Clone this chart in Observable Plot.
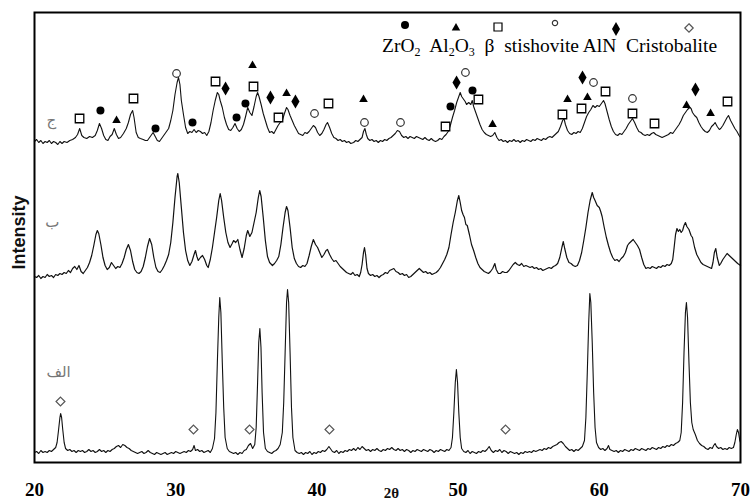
<!DOCTYPE html>
<html><head><meta charset="utf-8">
<script src="https://cdn.jsdelivr.net/npm/d3@7"></script>
<script src="https://cdn.jsdelivr.net/npm/@observablehq/plot@0.6"></script>
<style>
body{margin:0;background:#fff;}
#wrap{position:relative;width:753px;height:503px;}
#legtext{position:absolute;left:382px;top:36px;font:19.5px "Liberation Serif",serif;white-space:pre;color:#000;line-height:20px;}
#legtext sub{font-size:12px;vertical-align:-4px;line-height:0;}
#legsym{position:absolute;left:0;top:0;}
#chart g[aria-label="x-axis tick label"], #chart g[aria-label="x-axis tick label"] text{font-family:"Liberation Serif",serif !important;font-size:19px !important;font-weight:bold !important;}
</style></head>
<body>
<div id="wrap"><div id="chart"></div>
<svg id="legsym" width="753" height="60"></svg>
<div id="legtext">ZrO<sub>2</sub>  Al<sub>2</sub>O<sub>3</sub>  β  stishovite AlN  Cristobalite</div>
</div>
<script>
const xTicks = [20, 30, 40, 50, 60, 70];

// bottom pattern (الف)
const traceA = [[20.0,10],[20.15,11],[20.3,9],[20.45,12],[20.6,10],[20.75,11],[20.9,10],[21.05,12],[21.2,11],[21.35,13],[21.5,15],[21.6,20],[21.7,32],[21.8,45],[21.85,49],[21.92,45],[22.0,33],[22.1,20],[22.2,14],[22.35,12],[22.5,13],[22.65,11],[22.8,12],[22.95,10],[23.1,12],[23.25,11],[23.4,12],[23.55,10],[23.7,11],[23.85,13],[24.0,11],[24.15,12],[24.3,10],[24.45,11],[24.6,13],[24.75,11],[24.9,12],[25.05,10],[25.2,12],[25.35,11],[25.5,13],[25.65,14],[25.8,16],[25.95,17],[26.1,15],[26.25,18],[26.4,17],[26.55,15],[26.7,14],[26.85,12],[27.0,11],[27.15,10],[27.3,9],[27.45,10],[27.6,11],[27.75,9],[27.9,10],[28.05,12],[28.2,10],[28.35,9],[28.5,8],[28.65,10],[28.8,9],[28.95,8],[29.1,9],[29.25,10],[29.4,8],[29.55,9],[29.7,10],[29.85,9],[30.0,11],[30.15,10],[30.3,9],[30.45,10],[30.6,11],[30.75,10],[30.9,12],[31.05,11],[31.2,13],[31.3,17],[31.4,12],[31.55,13],[31.7,11],[31.85,12],[32.0,10],[32.15,11],[32.3,12],[32.45,10],[32.6,14],[32.75,24],[32.85,50],[32.95,100],[33.05,145],[33.12,165],[33.2,150],[33.3,100],[33.4,55],[33.5,25],[33.65,14],[33.8,11],[33.95,10],[34.1,9],[34.25,10],[34.4,8],[34.55,10],[34.7,9],[34.85,12],[35.0,13],[35.15,17],[35.3,19],[35.45,14],[35.6,18],[35.7,35],[35.8,80],[35.88,120],[35.96,134],[36.04,115],[36.12,70],[36.22,30],[36.35,14],[36.5,11],[36.65,10],[36.8,9],[36.95,11],[37.1,12],[37.25,14],[37.4,18],[37.55,30],[37.65,60],[37.75,110],[37.85,160],[37.92,173],[38.0,160],[38.1,110],[38.2,55],[38.3,25],[38.45,12],[38.6,10],[38.75,9],[38.9,10],[39.05,8],[39.2,10],[39.35,9],[39.5,11],[39.65,8],[39.8,10],[39.95,9],[40.1,11],[40.25,10],[40.4,12],[40.55,11],[40.7,13],[40.85,16],[40.95,14],[41.1,11],[41.25,10],[41.4,12],[41.55,9],[41.7,11],[41.85,10],[42.0,12],[42.15,11],[42.3,13],[42.45,12],[42.6,14],[42.75,12],[42.9,15],[43.05,13],[43.2,16],[43.35,14],[43.5,12],[43.65,13],[43.8,11],[43.95,13],[44.1,12],[44.25,14],[44.4,12],[44.55,11],[44.7,13],[44.85,12],[45.0,14],[45.15,13],[45.3,15],[45.45,13],[45.6,12],[45.75,14],[45.9,12],[46.05,13],[46.2,11],[46.35,13],[46.5,12],[46.65,10],[46.8,12],[46.95,11],[47.1,13],[47.25,12],[47.4,11],[47.55,13],[47.7,12],[47.85,11],[48.0,13],[48.15,12],[48.3,10],[48.45,12],[48.6,11],[48.75,13],[48.9,12],[49.05,11],[49.2,13],[49.35,12],[49.5,15],[49.6,25],[49.7,50],[49.8,80],[49.88,93],[49.96,80],[50.05,50],[50.15,25],[50.25,14],[50.4,11],[50.55,10],[50.7,12],[50.85,9],[51.0,11],[51.15,10],[51.3,9],[51.45,11],[51.6,10],[51.75,12],[51.9,11],[52.05,13],[52.2,16],[52.35,12],[52.5,10],[52.65,12],[52.8,11],[52.95,13],[53.1,10],[53.25,12],[53.4,11],[53.55,9],[53.7,11],[53.85,10],[54.0,9],[54.15,10],[54.3,8],[54.45,10],[54.6,9],[54.75,11],[54.9,10],[55.05,11],[55.2,10],[55.35,12],[55.5,11],[55.65,12],[55.8,13],[55.95,12],[56.1,14],[56.25,13],[56.4,15],[56.55,14],[56.7,16],[56.85,17],[57.0,18],[57.15,20],[57.3,21],[57.45,19],[57.6,16],[57.75,14],[57.9,12],[58.05,13],[58.2,11],[58.35,13],[58.5,12],[58.65,14],[58.8,16],[58.95,22],[59.05,45],[59.15,90],[59.25,140],[59.33,169],[59.4,160],[59.5,120],[59.6,70],[59.7,35],[59.8,20],[59.95,15],[60.1,13],[60.25,14],[60.4,12],[60.55,14],[60.65,17],[60.75,13],[60.9,12],[61.05,11],[61.2,12],[61.35,10],[61.5,12],[61.65,11],[61.8,13],[61.95,12],[62.1,11],[62.25,13],[62.4,12],[62.55,14],[62.7,13],[62.85,12],[63.0,14],[63.15,13],[63.3,12],[63.45,14],[63.6,13],[63.75,15],[63.9,14],[64.05,13],[64.2,15],[64.35,14],[64.5,16],[64.65,15],[64.8,17],[64.95,16],[65.1,18],[65.25,17],[65.4,19],[65.55,20],[65.7,22],[65.8,30],[65.9,60],[66.0,110],[66.1,150],[66.17,160],[66.25,145],[66.35,100],[66.45,60],[66.55,40],[66.65,33],[66.8,28],[66.95,22],[67.1,19],[67.25,17],[67.4,16],[67.55,14],[67.7,13],[67.85,15],[68.0,14],[68.1,17],[68.2,19],[68.3,16],[68.45,14],[68.6,15],[68.75,13],[68.9,14],[69.05,13],[69.2,15],[69.35,14],[69.5,15],[69.6,20],[69.7,28],[69.78,33],[69.86,30],[69.95,22],[70.0,20]];

// middle pattern (ب)
const traceB = [[20.0,186],[20.15,185],[20.3,187],[20.45,184],[20.6,186],[20.75,185],[20.9,188],[21.05,186],[21.2,187],[21.35,185],[21.5,188],[21.65,187],[21.8,189],[21.95,188],[22.1,190],[22.25,189],[22.4,192],[22.55,190],[22.7,194],[22.85,196],[23.0,193],[23.15,197],[23.3,191],[23.45,189],[23.6,192],[23.75,195],[23.9,200],[24.05,207],[24.2,217],[24.35,228],[24.45,232],[24.55,229],[24.7,218],[24.85,205],[25.0,197],[25.15,193],[25.3,195],[25.45,200],[25.6,197],[25.75,194],[25.9,196],[26.05,195],[26.2,199],[26.35,205],[26.5,213],[26.65,218],[26.8,212],[26.95,201],[27.1,193],[27.25,190],[27.4,189],[27.55,191],[27.7,196],[27.85,205],[28.0,216],[28.15,224],[28.3,218],[28.45,205],[28.6,195],[28.75,191],[28.9,190],[29.05,193],[29.2,197],[29.35,202],[29.5,208],[29.65,220],[29.8,240],[29.95,265],[30.1,286],[30.15,289],[30.25,280],[30.4,255],[30.55,230],[30.7,212],[30.85,202],[31.0,197],[31.15,201],[31.3,208],[31.4,212],[31.5,206],[31.6,202],[31.75,205],[31.9,207],[32.05,203],[32.2,197],[32.3,195],[32.45,203],[32.6,215],[32.75,230],[32.9,245],[33.05,262],[33.15,269],[33.25,262],[33.4,245],[33.55,230],[33.7,220],[33.85,215],[34.0,219],[34.1,222],[34.25,220],[34.4,223],[34.55,213],[34.7,205],[34.85,214],[35.0,227],[35.1,232],[35.25,226],[35.4,230],[35.55,240],[35.7,250],[35.85,265],[35.95,272],[36.05,266],[36.2,245],[36.35,222],[36.5,206],[36.65,200],[36.85,197],[37.0,199],[37.15,202],[37.3,206],[37.45,218],[37.6,235],[37.75,250],[37.85,256],[37.95,252],[38.1,235],[38.25,215],[38.4,204],[38.55,199],[38.7,196],[38.85,195],[39.0,197],[39.15,196],[39.3,199],[39.45,207],[39.6,216],[39.75,223],[39.9,218],[40.05,215],[40.2,210],[40.35,205],[40.5,208],[40.65,212],[40.75,213],[40.9,208],[41.05,204],[41.2,201],[41.35,202],[41.5,199],[41.65,196],[41.8,194],[41.95,192],[42.1,190],[42.25,189],[42.4,188],[42.55,190],[42.7,187],[42.85,188],[43.0,186],[43.1,190],[43.2,198],[43.3,210],[43.37,215],[43.45,208],[43.55,194],[43.65,189],[43.8,187],[43.95,188],[44.1,186],[44.25,187],[44.4,185],[44.55,187],[44.7,188],[44.85,190],[45.0,189],[45.15,192],[45.3,193],[45.45,194],[45.6,191],[45.75,190],[45.9,188],[46.05,189],[46.2,187],[46.35,188],[46.5,185],[46.65,186],[46.8,188],[46.95,190],[47.1,192],[47.25,194],[47.4,192],[47.55,190],[47.7,191],[47.85,189],[48.0,190],[48.15,188],[48.3,189],[48.45,190],[48.6,192],[48.75,195],[48.9,199],[49.05,203],[49.2,208],[49.35,215],[49.5,228],[49.65,240],[49.8,250],[49.95,262],[50.05,267],[50.15,260],[50.25,252],[50.35,248],[50.45,245],[50.55,238],[50.65,237],[50.8,228],[50.95,218],[51.1,212],[51.25,205],[51.4,199],[51.55,195],[51.7,193],[51.85,191],[52.0,190],[52.15,189],[52.3,191],[52.45,194],[52.6,199],[52.7,193],[52.85,189],[53.0,189],[53.15,191],[53.3,190],[53.45,190],[53.6,192],[53.75,195],[53.9,198],[54.05,200],[54.2,198],[54.35,197],[54.5,199],[54.65,196],[54.8,197],[54.95,196],[55.1,195],[55.25,196],[55.4,194],[55.55,195],[55.7,193],[55.85,194],[56.0,192],[56.15,193],[56.3,194],[56.45,195],[56.6,194],[56.75,196],[56.9,197],[57.05,199],[57.2,205],[57.35,215],[57.45,221],[57.55,214],[57.7,205],[57.85,200],[58.0,199],[58.15,197],[58.3,196],[58.45,197],[58.6,202],[58.75,210],[58.9,222],[59.05,235],[59.2,250],[59.35,262],[59.5,270],[59.6,265],[59.7,262],[59.85,257],[60.0,255],[60.1,251],[60.2,246],[60.35,235],[60.5,225],[60.65,217],[60.8,210],[60.95,205],[61.1,202],[61.25,203],[61.4,201],[61.55,204],[61.7,206],[61.85,210],[62.0,217],[62.1,219],[62.25,221],[62.4,223],[62.55,220],[62.7,217],[62.85,213],[63.0,205],[63.15,198],[63.3,194],[63.45,195],[63.6,194],[63.75,196],[63.9,195],[64.05,194],[64.2,196],[64.35,195],[64.5,197],[64.65,196],[64.8,198],[64.95,197],[65.1,199],[65.2,203],[65.3,215],[65.4,228],[65.5,234],[65.6,231],[65.7,233],[65.8,230],[65.9,232],[66.0,237],[66.1,240],[66.2,236],[66.35,233],[66.5,227],[66.6,225],[66.75,215],[66.9,208],[67.05,204],[67.2,200],[67.35,198],[67.5,197],[67.65,196],[67.8,195],[67.95,194],[68.05,200],[68.15,210],[68.25,214],[68.35,205],[68.5,197],[68.6,199],[68.75,203],[68.9,206],[69.05,209],[69.2,207],[69.35,205],[69.5,203],[69.65,201],[69.8,199],[69.9,198],[70.0,197]];

// top pattern (ج)
const traceC = [[20.0,321],[20.15,323],[20.3,320],[20.45,322],[20.6,319],[20.75,321],[20.9,320],[21.05,322],[21.2,319],[21.35,321],[21.5,320],[21.65,318],[21.8,321],[21.95,319],[22.1,321],[22.3,320],[22.5,322],[22.7,323],[22.9,325],[23.05,328],[23.2,334],[23.35,327],[23.5,325],[23.7,324],[23.9,326],[24.1,325],[24.3,327],[24.45,332],[24.6,339],[24.75,334],[24.9,327],[25.05,323],[25.2,322],[25.35,326],[25.5,328],[25.65,334],[25.8,328],[25.95,324],[26.1,325],[26.3,329],[26.5,334],[26.65,340],[26.8,348],[26.95,352],[27.05,345],[27.2,330],[27.35,325],[27.5,324],[27.7,323],[27.85,322],[28.0,322],[28.15,325],[28.3,328],[28.4,330],[28.55,326],[28.7,322],[28.85,321],[29.0,324],[29.15,327],[29.3,330],[29.5,334],[29.65,342],[29.8,352],[29.95,368],[30.1,380],[30.2,385],[30.3,378],[30.4,362],[30.55,348],[30.7,335],[30.85,329],[31.0,331],[31.15,330],[31.3,333],[31.45,330],[31.6,332],[31.75,331],[31.9,329],[32.05,330],[32.2,327],[32.35,331],[32.5,340],[32.65,352],[32.8,362],[32.95,370],[33.05,368],[33.15,362],[33.3,355],[33.45,345],[33.6,338],[33.75,333],[33.9,332],[34.05,335],[34.2,339],[34.35,334],[34.5,331],[34.65,333],[34.8,338],[34.95,346],[35.1,355],[35.25,350],[35.4,347],[35.55,356],[35.7,366],[35.8,370],[35.9,366],[36.05,358],[36.2,349],[36.35,342],[36.5,335],[36.65,330],[36.8,331],[36.95,329],[37.1,333],[37.25,337],[37.4,340],[37.55,342],[37.7,349],[37.85,355],[37.95,353],[38.1,347],[38.25,342],[38.4,337],[38.55,333],[38.7,329],[38.85,328],[39.0,327],[39.15,330],[39.3,329],[39.45,331],[39.6,334],[39.75,337],[39.9,335],[40.05,330],[40.2,327],[40.35,329],[40.5,333],[40.65,338],[40.75,340],[40.9,335],[41.05,329],[41.2,325],[41.35,324],[41.5,322],[41.65,323],[41.8,321],[41.95,322],[42.1,320],[42.25,321],[42.4,319],[42.6,320],[42.75,322],[42.9,321],[43.05,323],[43.2,325],[43.3,331],[43.4,334],[43.5,328],[43.6,324],[43.75,322],[43.9,323],[44.05,321],[44.2,322],[44.35,320],[44.5,322],[44.65,321],[44.8,323],[44.95,322],[45.1,324],[45.25,325],[45.4,327],[45.55,329],[45.7,332],[45.85,331],[46.0,327],[46.15,325],[46.3,326],[46.45,324],[46.6,326],[46.75,325],[46.9,324],[47.05,326],[47.2,325],[47.35,324],[47.5,323],[47.65,325],[47.8,323],[47.95,322],[48.1,324],[48.25,322],[48.4,321],[48.55,322],[48.7,324],[48.85,323],[49.0,326],[49.15,328],[49.3,331],[49.45,337],[49.6,345],[49.75,352],[49.9,360],[50.05,366],[50.15,370],[50.25,366],[50.35,364],[50.5,361],[50.6,358],[50.75,360],[50.9,358],[51.0,362],[51.1,356],[51.25,350],[51.4,344],[51.55,338],[51.7,333],[51.85,330],[52.0,328],[52.15,327],[52.3,326],[52.45,327],[52.6,330],[52.75,325],[52.9,322],[53.05,323],[53.2,321],[53.35,322],[53.5,320],[53.65,322],[53.8,321],[53.95,323],[54.1,321],[54.25,322],[54.4,320],[54.55,322],[54.7,321],[54.85,323],[55.0,322],[55.15,321],[55.3,323],[55.45,322],[55.6,324],[55.75,323],[55.9,322],[56.05,324],[56.2,323],[56.35,325],[56.5,326],[56.65,325],[56.8,327],[56.95,329],[57.1,331],[57.25,336],[57.4,342],[57.5,344],[57.6,338],[57.75,332],[57.9,329],[58.05,328],[58.2,330],[58.35,329],[58.5,331],[58.65,330],[58.8,334],[58.95,340],[59.1,346],[59.25,350],[59.4,353],[59.55,357],[59.7,355],[59.85,357],[60.0,356],[60.15,359],[60.3,362],[60.4,359],[60.55,351],[60.7,343],[60.85,336],[61.0,331],[61.15,328],[61.3,327],[61.45,329],[61.6,328],[61.75,331],[61.9,334],[62.05,338],[62.2,341],[62.35,344],[62.5,340],[62.65,335],[62.8,331],[62.95,330],[63.1,328],[63.25,327],[63.4,328],[63.55,327],[63.7,329],[63.85,330],[64.0,328],[64.15,327],[64.3,326],[64.45,325],[64.6,326],[64.75,327],[64.9,328],[65.05,330],[65.2,329],[65.35,332],[65.5,335],[65.65,338],[65.8,342],[65.95,347],[66.1,350],[66.25,353],[66.4,355],[66.5,354],[66.6,350],[66.75,347],[66.9,345],[67.05,340],[67.2,336],[67.35,333],[67.5,331],[67.65,330],[67.8,332],[67.95,336],[68.1,338],[68.2,340],[68.35,336],[68.5,333],[68.6,334],[68.75,337],[68.9,341],[69.05,345],[69.15,347],[69.3,342],[69.45,338],[69.6,334],[69.75,331],[69.9,327],[70.0,325]];

// phase markers [2θ, intensity]
const zro2Pts = [[24.67,352],[28.57,334],[31.19,340],[34.31,345],[34.94,359],[49.46,356],[51.02,372]];
const al2o3Pts = [[25.81,342],[35.44,397],[37.85,369],[43.30,363],[52.44,338],[57.75,363],[59.16,365],[66.18,357],[67.88,349]];
const betaPts = [[23.19,344],[27.01,364],[32.82,381],[35.51,376],[37.28,345],[40.82,359],[49.11,336],[51.44,363],[57.39,348],[58.74,354],[60.44,371],[62.35,349],[63.91,339],[69.08,361]];
const stishPts = [[30.06,389],[39.83,349],[43.37,340],[45.92,340],[50.52,390],[59.59,380],[62.35,364]];
const alnPts = [[33.53,374],[36.71,365],[38.48,361],[49.89,380],[58.81,385],[66.81,373]];
const cristoPts = [[21.84,61],[31.26,33],[35.23,33],[40.89,33],[53.36,33]];

// pattern labels
const sampleLabels = [{x:21.2, y:342, t:"ج"}, {x:21.27, y:240, t:"ب"}, {x:21.7, y:90, t:"الف"}];

const X = d => d[0], Y = d => d[1];
const chart = Plot.plot({
  width: 753, height: 503,
  marginLeft: 34, marginRight: 13, marginTop: 12, marginBottom: 41,
  x: {domain: [20, 70]},
  y: {domain: [0, 450], axis: null},
  style: {background: "white", fontFamily: "Liberation Serif", overflow: "visible"},
  marks: [
    Plot.axisX({ticks: xTicks, tickSize: 0, tickPadding: 20, fontSize: 19, fontWeight: "bold", label: null, tickFormat: d => String(d)}),
    Plot.line(traceA, {x: X, y: Y, stroke: "#111", strokeWidth: 1.1}),
    Plot.line(traceB, {x: X, y: Y, stroke: "#111", strokeWidth: 1.2}),
    Plot.line(traceC, {x: X, y: Y, stroke: "#111", strokeWidth: 1.1}),
    Plot.dot(zro2Pts, {x: X, y: Y, symbol: "circle", fill: "black", r: 4}),
    Plot.dot(al2o3Pts, {x: X, y: Y, symbol: "triangle", fill: "black", r: 3.2}),
    Plot.dot(betaPts, {x: X, y: Y, symbol: "square", fill: "white", stroke: "black", strokeWidth: 1.3, r: 4.8}),
    Plot.dot(stishPts, {x: X, y: Y, symbol: "circle", fill: "white", stroke: "#333", strokeWidth: 1.2, r: 3.8}),
    Plot.dot(alnPts, {x: X, y: Y, symbol: "diamond", fill: "black", r: 4.3}),
    Plot.dot(cristoPts, {x: X, y: Y, symbol: "diamond2", fill: "white", stroke: "#555", strokeWidth: 1.2, r: 4}),
    Plot.text(sampleLabels, {x: "x", y: "y", text: "t", fill: "#777", fontSize: 15, fontFamily: "DejaVu Sans"}),
    Plot.text(["Intensity"], {frameAnchor: "left", textAnchor: "middle", lineAnchor: "middle", dx: -15, dy: -5, rotate: -90, fontSize: 18, fontWeight: "bold", fontFamily: "Liberation Sans", fill: "#111"}),
    Plot.text(["2θ"], {frameAnchor: "bottom", lineAnchor: "middle", dx: 4, dy: 31, fontSize: 15, fontWeight: "bold", fill: "#111"}),
    Plot.frame({stroke: "black", strokeWidth: 2})
  ]
});
document.getElementById("chart").appendChild(chart);

// legend symbols (above the legend text)
const leg = d3.select("#legsym");
const legendSymbols = [
  {type: d3.symbolCircle, cx: 405, cy: 25, size: Math.PI * 16, fill: "black", stroke: "none"},
  {type: d3.symbolTriangle, cx: 456, cy: 28, size: Math.PI * 10, fill: "black", stroke: "none"},
  {type: d3.symbolSquare, cx: 498, cy: 27, size: 64, fill: "white", stroke: "black"},
  {type: d3.symbolCircle, cx: 555, cy: 23, size: Math.PI * 7, fill: "white", stroke: "#333"},
  {type: d3.symbolDiamond, cx: 616, cy: 29, size: Math.PI * 18, fill: "black", stroke: "none"},
  {type: d3.symbolDiamond2, cx: 689, cy: 28, size: 45, fill: "white", stroke: "#555"}
];
legendSymbols.forEach(s => {
  leg.append("path").attr("d", d3.symbol(s.type, s.size)())
    .attr("transform", `translate(${s.cx},${s.cy})`)
    .attr("fill", s.fill).attr("stroke", s.stroke).attr("stroke-width", 1.2);
});
</script>
</body></html>
